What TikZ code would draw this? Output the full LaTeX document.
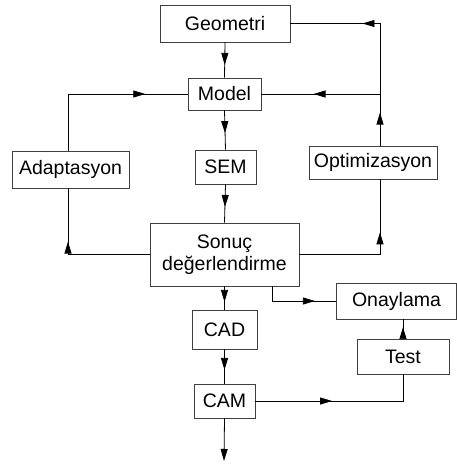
\documentclass[tikz,border=0pt]{standalone}
\usepackage{fontspec}
\setmainfont{Liberation Sans}
\usetikzlibrary{arrows.meta,decorations.markings}
\tikzset{
    >={Triangle[length=12pt,width=7pt]},
    blok/.style={draw=black!75,line width=0.8pt,inner sep=0pt,align=center,
        font=\fontsize{19.5}{22}\selectfont},
    flow/.style={postaction={decorate},
        decoration={markings,mark=at position #1 with {\arrow{>}}}}
}
\begin{document}
\begin{tikzpicture}[x=1pt,y=-1pt,line width=0.8pt]
    \useasboundingbox (0,0) rectangle (457,466);
    % kutular
    \node[blok,minimum width=130pt,minimum height=37pt] (geo) at (225,23.5) {Geometri};
    \node[blok,minimum width=73pt,minimum height=32pt] (model) at (224.5,94) {Model};
    \node[blok,minimum width=61pt,minimum height=34pt] (sem) at (225.5,167) {SEM};
    \node[blok,minimum width=117pt,minimum height=37pt] (adapt) at (70.5,169.5) {Adaptasyon};
    \node[blok,minimum width=128pt,minimum height=33pt] (opt) at (373,162.5) {Optimizasyon};
    \node[blok,minimum width=149pt,minimum height=63pt] (sonuc) at (224.5,254.5) {Sonuç\\değerlendirme};
    \node[blok,minimum width=120pt,minimum height=36pt] (onay) at (396.5,301) {Onaylama};
    \node[blok,minimum width=92pt,minimum height=35pt] (test) at (403,356.5) {Test};
    \node[blok,minimum width=65pt,minimum height=39pt] (cad) at (224.5,329.5) {CAD};
    \node[blok,minimum width=61pt,minimum height=34pt] (cam) at (224.5,401) {CAM};
    % yardimci noktalar
    \coordinate (jr) at (380,94);
    \coordinate (jl) at (68,94);
    \coordinate (s1) at (272,301);
    \coordinate (out) at (224,461);
    % ana akis
    \draw[flow=0.64] (geo.south) -- (model.north);
    \draw[flow=0.58] (model.south) -- (sem.north);
    \draw[flow=0.59] (sem.south) -- (sonuc.north);
    \draw[flow=0.67] (sonuc.south) -- (cad.north);
    \draw[flow=0.6] (cad.south) -- (cam.north);
    \draw[->] (cam.south) -- (out);
    % optimizasyon dongusu
    \draw[flow=0.66] (sonuc.east) -- (sonuc.east -| jr) -- (opt.south -| jr);
    \draw[flow=0.64] (opt.north -| jr) -- (jr);
    \draw[flow=0.56] (jr) -- (model.east);
    \draw[flow=0.55] (jr) -- (geo.east -| jr) -- (geo.east);
    % adaptasyon dongusu
    \draw[flow=0.64] (sonuc.west) -- (sonuc.west -| jl) -- (adapt.south -| jl);
    \draw[flow=0.76] (adapt.north -| jl) -- (jl) -- (model.west);
    % onaylama
    \draw[flow=0.73] (s1 |- sonuc.south) -- (s1) -- (onay.west);
    \draw[flow=0.6] (test.north) -- (onay.south -| test.north);
    \draw[flow=0.44] (cam.east) -- (cam.east -| test.south) -- (test.south);
\end{tikzpicture}
\end{document}
